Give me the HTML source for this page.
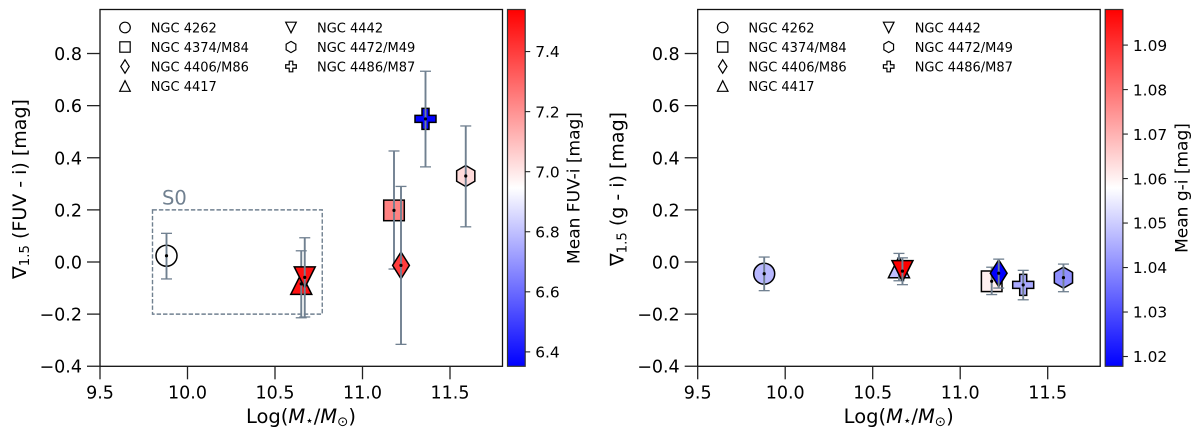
<!DOCTYPE html>
<html>
<head>
<meta charset="utf-8">
<title>Colour gradient vs stellar mass</title>
<style>
html,body{margin:0;padding:0;background:#fff;width:1200px;height:439px;overflow:hidden}
svg{display:block}
text{font-family:"DejaVu Sans","Liberation Sans",sans-serif;fill:#000}
</style>
</head>
<body>
<svg id="chart" xmlns="http://www.w3.org/2000/svg" width="1200" height="439" viewBox="0 0 1200 439">
<defs>
<linearGradient id="bwr" x1="0" y1="1" x2="0" y2="0">
<stop offset="0" stop-color="#0000ff"/>
<stop offset="0.5" stop-color="#ffffff"/>
<stop offset="1" stop-color="#ff0000"/>
</linearGradient>
</defs>
<g id="left"></g>
<g id="right"></g>
</svg>
<script>
var galaxies = ['NGC 4262','NGC 4374/M84','NGC 4406/M86','NGC 4417','NGC 4442','NGC 4472/M49','NGC 4486/M87'];
var markerKinds = ['circle','square','diamond','triUp','triDown','hexagon','plus'];
var logMass = [9.88,11.18,11.22,10.65,10.67,11.59,11.36];

var fuvGradient = [0.024,0.198,-0.013,-0.084,-0.059,0.33,0.549];
var fuvErrTop = [0.11,0.426,0.29,0.043,0.093,0.522,0.732];
var fuvErrBottom = [-0.065,-0.027,-0.316,-0.214,-0.211,0.135,0.365];
var fuvMean = [6.946,7.24,7.4,7.5,7.5,7.03,6.36];

var giGradient = [-0.045,-0.074,-0.043,-0.02,-0.035,-0.06,-0.088];
var giErrTop = [0.019,-0.02,0.011,0.033,0.016,-0.008,-0.032];
var giErrBottom = [-0.11,-0.125,-0.1,-0.072,-0.087,-0.114,-0.145];
var giMean = [1.0467,1.0603,1.018,1.048,1.098,1.0403,1.0443];

var xTicks = [9.5,10,10.5,11,11.5];
var xTickLabels = ['9.5','10.0','10.5','11.0','11.5'];
var yTicks = [-0.4,-0.2,0,0.2,0.4,0.6,0.8];
var yTickLabels = ['\u22120.4','\u22120.2','0.0','0.2','0.4','0.6','0.8'];
var fuvBarTicks = [6.4,6.6,6.8,7.0,7.2,7.4];
var fuvBarLabels = ['6.4','6.6','6.8','7.0','7.2','7.4'];
var giBarTicks = [1.02,1.03,1.04,1.05,1.06,1.07,1.08,1.09];
var giBarLabels = ['1.02','1.03','1.04','1.05','1.06','1.07','1.08','1.09'];
var fuvRange = [6.352,7.54];
var giRange = [1.0178,1.098];
var s0Box = [9.8,10.77,-0.2,0.2];

var NS = 'http://www.w3.org/2000/svg';
var SLATE = '#708090';
var TOP = 9.5, BOTTOM = 366.3;

function mk(parent, tag, attrs, txt) {
  var e = document.createElementNS(NS, tag);
  for (var k in attrs) e.setAttribute(k, attrs[k]);
  if (txt !== undefined) e.textContent = txt;
  parent.appendChild(e);
  return e;
}
function name(e, n, i) {
  
  
  return e;
}
function yScale(v) { return 262 - v * 260.6; }

function bwr(t) {
  t = Math.max(0, Math.min(1, t));
  var r, g, b;
  if (t < 0.5) { r = g = 2 * t; b = 1; }
  else { r = 1; g = b = 2 * (1 - t); }
  return 'rgb(' + Math.round(r * 255) + ',' + Math.round(g * 255) + ',' + Math.round(b * 255) + ')';
}

function shape(parent, kind, cx, cy, s, fill, sw) {
  var st = {fill: fill, stroke: '#000', 'stroke-width': sw, 'stroke-linejoin': 'miter'};
  var pts = null;
  if (kind === 'circle') {
    st.cx = cx; st.cy = cy; st.r = s;
    return mk(parent, 'circle', st);
  }
  if (kind === 'square') {
    st.x = cx - s * 0.98; st.y = cy - s * 0.98; st.width = s * 1.96; st.height = s * 1.96;
    return mk(parent, 'rect', st);
  }
  if (kind === 'diamond') pts = [[0,-1.27],[0.8,0],[0,1.27],[-0.8,0]];
  if (kind === 'triUp') pts = [[0,-1],[1,1],[-1,1]];
  if (kind === 'triDown') pts = [[0,1],[1,-1],[-1,-1]];
  if (kind === 'hexagon') pts = [[0,-1],[0.866,-0.5],[0.866,0.5],[0,1],[-0.866,0.5],[-0.866,-0.5]];
  if (kind === 'plus') {
    var a = 1 / 3;
    pts = [[-a,-1],[a,-1],[a,-a],[1,-a],[1,a],[a,a],[a,1],[-a,1],[-a,a],[-1,a],[-1,-a],[-a,-a]];
  }
  st.points = pts.map(function (p) { return (cx + p[0] * s) + ',' + (cy + p[1] * s); }).join(' ');
  return mk(parent, 'polygon', st);
}

function panel(root, cfg) {
  var L = cfg.left, R = cfg.right;
  function xScale(v) { return L + (v - 9.5) * 175; }

  // dashed S0 box
  if (cfg.s0) {
    var box = mk(root, 'rect', {x: xScale(s0Box[0]), y: yScale(s0Box[3]), width: xScale(s0Box[1]) - xScale(s0Box[0]), height: yScale(s0Box[2]) - yScale(s0Box[3]), fill: 'none', stroke: SLATE, 'stroke-width': 1.4, 'stroke-dasharray': '4.4 2'});
    name(box, 's0-box', false);
    var s0 = mk(root, 'text', {x: xScale(s0Box[0]) + 9.5, y: yScale(s0Box[3]) - 5.2, 'font-size': 19.5, style: 'fill:' + SLATE}, 'S0');
    name(s0, 's0-label', false);
  }

  // data points
  for (var i = 0; i < galaxies.length; i++) {
    var g = mk(root, 'g', {});
    name(g, 'point-' + galaxies[i].toLowerCase().replace(/[ \/]/g, '-'), false);
    var px = xScale(logMass[i]), py = yScale(cfg.vals[i]);
    var t = (cfg.mean[i] - cfg.range[0]) / (cfg.range[1] - cfg.range[0]);
    shape(g, markerKinds[i], px, py, 10.5, bwr(t), 1.5);
    var yt = yScale(cfg.top[i]), yb = yScale(cfg.bot[i]);
    mk(g, 'line', {x1: px, x2: px, y1: yt, y2: yb, stroke: SLATE, 'stroke-width': 1.9});
    mk(g, 'line', {x1: px - 5.5, x2: px + 5.5, y1: yt, y2: yt, stroke: SLATE, 'stroke-width': 1.3});
    mk(g, 'line', {x1: px - 5.5, x2: px + 5.5, y1: yb, y2: yb, stroke: SLATE, 'stroke-width': 1.3});
    mk(g, 'circle', {cx: px, cy: py, r: 1.6, fill: '#000'});
  }

  // legend
  var rows = [27.5, 47, 66.5, 86];
  for (var j = 0; j < galaxies.length; j++) {
    var col = j < 4 ? 0 : 1, row = j < 4 ? j : j - 4;
    var lg = mk(root, 'g', {});
    name(lg, 'legend-entry-' + (j + 1), false);
    shape(lg, markerKinds[j], L + (col ? 191 : 25), rows[row], markerKinds[j] === 'hexagon' ? 5.6 : 5.3, 'none', 1.2);
    mk(lg, 'text', {x: L + (col ? 217 : 50.7), y: rows[row] + 4.8, 'font-size': 13}, galaxies[j]);
  }

  // frame
  var frame = mk(root, 'rect', {x: L, y: TOP, width: R - L, height: BOTTOM - TOP, fill: 'none', stroke: '#111', 'stroke-width': 1.3});
  name(frame, 'plot-frame', false);

  // x axis
  var xa = mk(root, 'g', {});
  name(xa, 'x-axis', false);
  xTicks.forEach(function (v, k) {
    var x = xScale(v);
    mk(xa, 'line', {x1: x, x2: x, y1: BOTTOM, y2: BOTTOM + 13, stroke: '#222', 'stroke-width': 1.3});
    mk(xa, 'text', {x: x, y: 398.5, 'font-size': 17.5, 'text-anchor': 'middle'}, xTickLabels[k]);
  });
  var xl = mk(root, 'text', {x: L + 201, y: 423, 'font-size': 19.5, 'text-anchor': 'middle'});
  name(xl, 'x-axis-title', false);
  mk(xl, 'tspan', {}, 'Log(');
  mk(xl, 'tspan', {'font-style': 'italic'}, 'M');
  mk(xl, 'tspan', {'font-size': 13.5, dy: 2}, '\u22c6');
  mk(xl, 'tspan', {dy: -2}, '/');
  mk(xl, 'tspan', {'font-style': 'italic'}, 'M');
  mk(xl, 'tspan', {'font-size': 13.5, dy: 3}, '\u2299');
  mk(xl, 'tspan', {dy: -3}, ')');

  // y axis
  var ya = mk(root, 'g', {});
  name(ya, 'y-axis', false);
  yTicks.forEach(function (v, k) {
    var y = yScale(v);
    mk(ya, 'line', {x1: L - 13, x2: L, y1: y, y2: y, stroke: '#222', 'stroke-width': 1.3});
    mk(ya, 'text', {x: L - 18, y: y + 6.5, 'font-size': 17.5, 'text-anchor': 'end'}, yTickLabels[k]);
  });
  var yl = mk(root, 'text', {transform: 'translate(' + (L - 74) + ',' + cfg.ylabelY + ') rotate(-90)', 'font-size': 19, 'text-anchor': 'middle'});
  name(yl, 'y-axis-title', false);
  mk(yl, 'tspan', {}, '\u2207');
  mk(yl, 'tspan', {'font-size': 13.3, dy: 3}, '1.5');
  mk(yl, 'tspan', {dy: -3}, cfg.ylabel);

  // colorbar
  var cb = mk(root, 'g', {});
  name(cb, 'colorbar', false);
  var cx0 = R + 5, cw = 17.7;
  mk(cb, 'rect', {x: cx0, y: TOP, width: cw, height: BOTTOM - TOP, fill: 'url(#bwr)', stroke: '#333', 'stroke-width': 1.2});
  var h = BOTTOM - TOP;
  cfg.barTicks.forEach(function (v, k) {
    var y = BOTTOM - (v - cfg.range[0]) / (cfg.range[1] - cfg.range[0]) * h;
    mk(cb, 'line', {x1: cx0 + cw, x2: cx0 + cw + 5, y1: y, y2: y, stroke: '#222', 'stroke-width': 1.1});
    mk(cb, 'text', {x: cx0 + cw + 10, y: y + 5.7, 'font-size': 15.4}, cfg.barLabels[k]);
  });
  var cl = mk(cb, 'text', {transform: 'translate(' + cfg.barLabelX + ',' + cfg.barLabelY + ') rotate(-90)', 'font-size': 17, 'text-anchor': 'middle'}, cfg.barTitle);
  name(cl, 'colorbar-title', false);
}

panel(document.getElementById('left'), {
  left: 100, right: 502.5, s0: true,
  vals: fuvGradient, top: fuvErrTop, bot: fuvErrBottom, mean: fuvMean, range: fuvRange,
  barTicks: fuvBarTicks, barLabels: fuvBarLabels, barTitle: 'Mean FUV-i [mag]',
  barLabelX: 579.3, barLabelY: 188, ylabel: ' (FUV - i) [mag]', ylabelY: 189
});
panel(document.getElementById('right'), {
  left: 697.7, right: 1100.2, s0: false,
  vals: giGradient, top: giErrTop, bot: giErrBottom, mean: giMean, range: giRange,
  barTicks: giBarTicks, barLabels: giBarLabels, barTitle: 'Mean g-i [mag]',
  barLabelX: 1187.5, barLabelY: 188, ylabel: ' (g - i) [mag]', ylabelY: 189
});
</script>
</body>
</html>
